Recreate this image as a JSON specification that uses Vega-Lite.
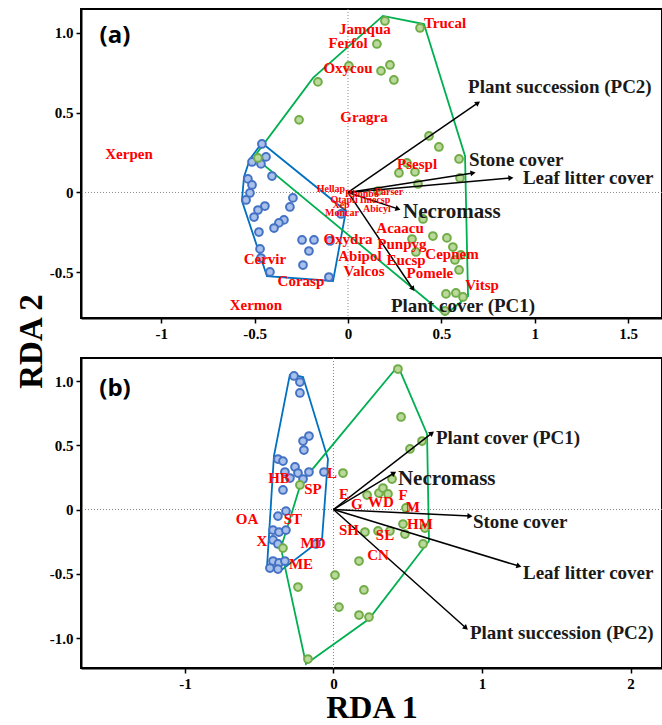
{
"$schema": "https://vega.github.io/schema/vega-lite/v6.json",
"padding": {"left": 14, "top": 7, "right": 0, "bottom": 0},
"background": "white",
"bounds": "flush",
"spacing": 40,
"config": {
  "view": {"stroke": "black", "strokeWidth": 2},
  "axis": {"grid": false, "domainColor": "black", "domainWidth": 2, "tickColor": "black", "tickWidth": 1.5, "tickSize": 5, "labelFont": "Liberation Serif", "labelFontWeight": "bold", "labelFontSize": 15, "labelColor": "black", "labelPadding": 3, "titleFont": "Liberation Serif", "titleFontWeight": "bold", "titleFontSize": 33, "titleColor": "black"}
},
"datasets": {
  "hullA": [
    {"g":"blue","i":0,"x":-0.461,"y":0.310},{"g":"blue","i":1,"x":-0.011,"y":-0.116},{"g":"blue","i":2,"x":-0.080,"y":-0.555},{"g":"blue","i":3,"x":-0.434,"y":-0.524},{"g":"blue","i":4,"x":-0.568,"y":-0.053},{"g":"blue","i":5,"x":-0.557,"y":0.097},{"g":"blue","i":6,"x":-0.525,"y":0.210},{"g":"blue","i":7,"x":-0.461,"y":0.310},
    {"g":"green","i":0,"x":-0.503,"y":0.223},{"g":"green","i":1,"x":-0.187,"y":0.718},{"g":"green","i":2,"x":0.187,"y":1.107},{"g":"green","i":3,"x":0.407,"y":1.056},{"g":"green","i":4,"x":0.627,"y":0.229},{"g":"green","i":5,"x":0.643,"y":-0.649},{"g":"green","i":6,"x":0.520,"y":-0.768},{"g":"green","i":7,"x":-0.503,"y":0.223}
  ],
  "hullB": [
    {"g":"blue","i":0,"x":-0.293,"y":1.054},{"g":"blue","i":1,"x":-0.205,"y":1.031},{"g":"blue","i":2,"x":-0.037,"y":0.393},{"g":"blue","i":3,"x":-0.077,"y":-0.230},{"g":"blue","i":4,"x":-0.360,"y":-0.479},{"g":"blue","i":5,"x":-0.448,"y":-0.455},{"g":"blue","i":6,"x":-0.401,"y":0.416},{"g":"blue","i":7,"x":-0.293,"y":1.054},
    {"g":"green","i":0,"x":0.434,"y":1.117},{"g":"green","i":1,"x":0.630,"y":0.588},{"g":"green","i":2,"x":0.643,"y":-0.245},{"g":"green","i":3,"x":0.239,"y":-0.852},{"g":"green","i":4,"x":-0.185,"y":-1.202},{"g":"green","i":5,"x":-0.354,"y":-0.300},{"g":"green","i":6,"x":-0.219,"y":0.206},{"g":"green","i":7,"x":0.434,"y":1.117}
  ],
  "ptsA": [
    {"g":"blue","x":-0.461,"y":0.304},{"g":"blue","x":-0.439,"y":0.223},{"g":"blue","x":-0.514,"y":0.191},{"g":"blue","x":-0.466,"y":0.179},{"g":"blue","x":-0.407,"y":0.103},{"g":"blue","x":-0.536,"y":0.085},{"g":"blue","x":-0.514,"y":0.047},{"g":"blue","x":-0.525,"y":-0.003},{"g":"blue","x":-0.546,"y":-0.047},{"g":"blue","x":-0.295,"y":-0.034},{"g":"blue","x":-0.311,"y":-0.091},{"g":"blue","x":-0.445,"y":-0.085},{"g":"blue","x":-0.482,"y":-0.110},{"g":"blue","x":-0.503,"y":-0.154},{"g":"blue","x":-0.343,"y":-0.172},{"g":"blue","x":-0.370,"y":-0.191},{"g":"blue","x":-0.396,"y":-0.223},{"g":"blue","x":-0.477,"y":-0.248},{"g":"blue","x":-0.037,"y":-0.135},{"g":"blue","x":-0.246,"y":-0.298},{"g":"blue","x":-0.182,"y":-0.298},{"g":"blue","x":-0.096,"y":-0.304},{"g":"blue","x":-0.209,"y":-0.367},{"g":"blue","x":-0.471,"y":-0.354},{"g":"blue","x":-0.466,"y":-0.411},{"g":"blue","x":-0.241,"y":-0.455},{"g":"blue","x":-0.418,"y":-0.498},{"g":"blue","x":-0.102,"y":-0.530},
    {"g":"green","x":-0.482,"y":0.216},{"g":"green","x":0.198,"y":1.075},{"g":"green","x":0.386,"y":1.031},{"g":"green","x":0.155,"y":0.931},{"g":"green","x":0.005,"y":0.793},{"g":"green","x":0.177,"y":0.762},{"g":"green","x":0.225,"y":0.799},{"g":"green","x":0.246,"y":0.705},{"g":"green","x":-0.161,"y":0.693},{"g":"green","x":-0.262,"y":0.455},{"g":"green","x":0.434,"y":0.354},{"g":"green","x":0.487,"y":0.285},{"g":"green","x":0.595,"y":0.210},{"g":"green","x":0.316,"y":0.185},{"g":"green","x":0.273,"y":0.122},{"g":"green","x":0.359,"y":0.129},{"g":"green","x":0.600,"y":0.091},{"g":"green","x":0.375,"y":0.053},{"g":"green","x":0.161,"y":0.009},{"g":"green","x":0.402,"y":-0.166},{"g":"green","x":0.455,"y":-0.273},{"g":"green","x":0.530,"y":-0.285},{"g":"green","x":0.343,"y":-0.292},{"g":"green","x":0.562,"y":-0.342},{"g":"green","x":0.605,"y":-0.392},{"g":"green","x":0.573,"y":-0.423},{"g":"green","x":0.595,"y":-0.486},{"g":"green","x":0.364,"y":-0.373},{"g":"green","x":0.525,"y":-0.636},{"g":"green","x":0.578,"y":-0.630},{"g":"green","x":0.616,"y":-0.655},{"g":"green","x":0.520,"y":-0.743}
  ],
  "ptsB": [
    {"g":"blue","x":-0.266,"y":1.039},{"g":"blue","x":-0.226,"y":0.992},{"g":"blue","x":-0.226,"y":0.907},{"g":"blue","x":-0.165,"y":0.572},{"g":"blue","x":-0.205,"y":0.533},{"g":"blue","x":-0.199,"y":0.463},{"g":"blue","x":-0.374,"y":0.393},{"g":"blue","x":-0.340,"y":0.377},{"g":"blue","x":-0.259,"y":0.331},{"g":"blue","x":-0.327,"y":0.292},{"g":"blue","x":-0.239,"y":0.284},{"g":"blue","x":-0.165,"y":0.292},{"g":"blue","x":-0.064,"y":0.292},{"g":"blue","x":-0.293,"y":0.245},{"g":"blue","x":-0.205,"y":0.237},{"g":"blue","x":-0.340,"y":0.152},{"g":"blue","x":-0.320,"y":-0.012},{"g":"blue","x":-0.374,"y":-0.051},{"g":"blue","x":-0.407,"y":-0.160},{"g":"blue","x":-0.367,"y":-0.175},{"g":"blue","x":-0.320,"y":-0.160},{"g":"blue","x":-0.407,"y":-0.237},{"g":"blue","x":-0.374,"y":-0.268},{"g":"blue","x":-0.118,"y":-0.268},{"g":"blue","x":-0.407,"y":-0.401},{"g":"blue","x":-0.367,"y":-0.416},{"g":"blue","x":-0.327,"y":-0.401},{"g":"blue","x":-0.428,"y":-0.455},{"g":"blue","x":-0.374,"y":-0.463},
    {"g":"green","x":0.434,"y":1.093},{"g":"green","x":0.455,"y":0.720},{"g":"green","x":0.596,"y":0.533},{"g":"green","x":0.515,"y":0.471},{"g":"green","x":0.064,"y":0.284},{"g":"green","x":0.394,"y":0.237},{"g":"green","x":-0.226,"y":0.191},{"g":"green","x":0.226,"y":0.113},{"g":"green","x":0.306,"y":0.128},{"g":"green","x":0.333,"y":0.167},{"g":"green","x":0.367,"y":0.121},{"g":"green","x":0.488,"y":0.012},{"g":"green","x":0.468,"y":-0.113},{"g":"green","x":0.616,"y":-0.144},{"g":"green","x":0.212,"y":-0.175},{"g":"green","x":0.300,"y":-0.167},{"g":"green","x":0.380,"y":-0.167},{"g":"green","x":0.481,"y":-0.191},{"g":"green","x":0.603,"y":-0.268},{"g":"green","x":-0.340,"y":-0.300},{"g":"green","x":0.172,"y":-0.401},{"g":"green","x":0.010,"y":-0.510},{"g":"green","x":-0.239,"y":-0.603},{"g":"green","x":0.205,"y":-0.626},{"g":"green","x":0.037,"y":-0.759},{"g":"green","x":0.172,"y":-0.821},{"g":"green","x":0.239,"y":-0.837},{"g":"green","x":-0.172,"y":-1.163}
  ],
  "arrowsA": [
    {"name":"Plant succession (PC2)","x0":0,"y0":0,"x":0.696,"y":0.561},
    {"name":"Stone cover","x0":0,"y0":0,"x":0.670,"y":0.122},
    {"name":"Leaf litter cover","x0":0,"y0":0,"x":0.873,"y":0.091},
    {"name":"Necromass","x0":0,"y0":0,"x":0.268,"y":-0.103},
    {"name":"Plant cover (PC1)","x0":0,"y0":0,"x":0.348,"y":-0.605}
  ],
  "arrowLabelsA": [
    {"name":"Plant succession (PC2)","x":0.643,"y":0.661},
    {"name":"Stone cover","x":0.648,"y":0.204},
    {"name":"Leaf litter cover","x":0.937,"y":0.091},
    {"name":"Necromass","x":0.295,"y":-0.122},
    {"name":"Plant cover (PC1)","x":0.230,"y":-0.712}
  ],
  "arrowsB": [
    {"name":"Plant cover (PC1)","x0":0,"y0":0,"x":0.663,"y":0.595},
    {"name":"Necromass","x0":0,"y0":0,"x":0.407,"y":0.284},
    {"name":"Stone cover","x0":0,"y0":0,"x":0.919,"y":-0.051},
    {"name":"Leaf litter cover","x0":0,"y0":0,"x":1.249,"y":-0.440},
    {"name":"Plant succession (PC2)","x0":0,"y0":0,"x":0.892,"y":-0.922}
  ],
  "arrowLabelsB": [
    {"name":"Plant cover (PC1)","x":0.690,"y":0.556},
    {"name":"Necromass","x":0.434,"y":0.237},
    {"name":"Stone cover","x":0.939,"y":-0.097},
    {"name":"Leaf litter cover","x":1.276,"y":-0.494},
    {"name":"Plant succession (PC2)","x":0.919,"y":-0.961}
  ],
  "speciesA": [
    {"s":"Jamqua","x":0.091,"y":1.025},{"s":"Trucal","x":0.520,"y":1.063},{"s":"Ferfol","x":0.000,"y":0.937},{"s":"Oxycou","x":0.000,"y":0.781},{"s":"Gragra","x":0.086,"y":0.473},{"s":"Xerpen","x":-1.173,"y":0.241},{"s":"Psespl","x":0.370,"y":0.179},{"s":"Acaacu","x":0.279,"y":-0.223},{"s":"Oxydra","x":0.000,"y":-0.292},{"s":"Punpyg","x":0.289,"y":-0.323},{"s":"Cepnem","x":0.557,"y":-0.386},{"s":"Abipol","x":0.064,"y":-0.398},{"s":"Eucsp","x":0.311,"y":-0.423},{"s":"Cervir","x":-0.445,"y":-0.417},{"s":"Valcos","x":0.086,"y":-0.492},{"s":"Pomele","x":0.439,"y":-0.505},{"s":"Corasp","x":-0.252,"y":-0.555},{"s":"Vitsp","x":0.718,"y":-0.580},{"s":"Xermon","x":-0.493,"y":-0.705}
  ],
  "smallA": [
    {"s":"Hellap","x":-0.091,"y":0.022},{"s":"Rhonbo","x":0.075,"y":-0.010},{"s":"Parser","x":0.220,"y":0.003},{"s":"Otapli","x":-0.021,"y":-0.047},{"s":"Imecsp","x":0.145,"y":-0.047},{"s":"Xep","x":-0.037,"y":-0.078},{"s":"Abicyl","x":0.155,"y":-0.103},{"s":"Moncar","x":-0.032,"y":-0.129}
  ],
  "speciesB": [
    {"s":"HB","x":-0.367,"y":0.245},{"s":"L","x":-0.010,"y":0.284},{"s":"SP","x":-0.138,"y":0.160},{"s":"E","x":0.071,"y":0.121},{"s":"G","x":0.158,"y":0.043},{"s":"WD","x":0.320,"y":0.058},{"s":"F","x":0.468,"y":0.113},{"s":"M","x":0.535,"y":0.019},{"s":"HM","x":0.582,"y":-0.113},{"s":"OA","x":-0.582,"y":-0.074},{"s":"ST","x":-0.273,"y":-0.074},{"s":"SH","x":0.104,"y":-0.160},{"s":"SL","x":0.347,"y":-0.198},{"s":"X","x":-0.481,"y":-0.245},{"s":"MD","x":-0.138,"y":-0.261},{"s":"CN","x":0.300,"y":-0.354},{"s":"ME","x":-0.219,"y":-0.424}
  ],
  "panelA": [{"s":"(a)","x":-1.248,"y":0.981}],
  "panelB": [{"s":"(b)","x":-1.471,"y":0.938}],
  "zero": [{"z":0}]
},
"vconcat": [
{
  "width": 581, "height": 309,
  "layer": [
    {"data": {"name":"zero"}, "mark": {"type":"rule","color":"#888888","strokeWidth":1,"strokeDash":[1,2]},
     "encoding": {"y": {"field":"z","type":"quantitative","scale":{"domain":[-0.787,1.15],"nice":false,"zero":false}}}},
    {"data": {"name":"zero"}, "mark": {"type":"rule","color":"#888888","strokeWidth":1,"strokeDash":[1,2]},
     "encoding": {"x": {"field":"z","type":"quantitative","scale":{"domain":[-1.43,1.682],"nice":false,"zero":false}}}},
    {"data": {"name":"hullA"}, "mark": {"type":"line","strokeWidth":1.8,"clip":true},
     "encoding": {
       "x": {"field":"x","type":"quantitative","scale":{"domain":[-1.43,1.682],"nice":false,"zero":false},
             "axis":{"title":null,"values":[-1,-0.5,0,0.5,1,1.5],"labelExpr":"datum.value == 0 ? '0' : toString(datum.value)"}},
       "y": {"field":"y","type":"quantitative","scale":{"domain":[-0.787,1.15],"nice":false,"zero":false},
             "axis":{"title":"RDA 2","values":[-0.5,0,0.5,1],"labelExpr":"datum.value == 0 ? '0' : (datum.value < 0 ? '-' : '') + format(abs(datum.value), '.1f')","titleX":-50,"titleY":332,"titleAngle":-90,"titleAlign":"center","titleBaseline":"middle"}},
       "color": {"field":"g","type":"nominal","scale":{"domain":["blue","green"],"range":["#0070c0","#00b050"]},"legend":null},
       "order": {"field":"i","type":"quantitative"}
     }},
    {"data": {"name":"ptsA"}, "mark": {"type":"point","shape":"circle","filled":true,"size":60,"strokeWidth":2,"opacity":1,"clip":true},
     "encoding": {
       "x": {"field":"x","type":"quantitative"},
       "y": {"field":"y","type":"quantitative"},
       "fill": {"field":"g","type":"nominal","scale":{"domain":["blue","green"],"range":["#a9c1ea","#bcd99c"]},"legend":null},
       "stroke": {"field":"g","type":"nominal","scale":{"domain":["blue","green"],"range":["#4472c4","#70ad47"]},"legend":null}
     }},
    {"data": {"name":"arrowsA"}, "mark": {"type":"rule","color":"black","strokeWidth":1.5},
     "encoding": {"x": {"field":"x0","type":"quantitative"},"y": {"field":"y0","type":"quantitative"},"x2": {"field":"x"},"y2": {"field":"y"}}},
    {"data": {"name":"arrowsA"}, "transform": [{"calculate":"atan2(-datum.y*159.5, datum.x*186.7)*180/PI","as":"ang"}],
     "mark": {"type":"point","shape":"triangle-right","filled":true,"color":"black","size":35,"opacity":1},
     "encoding": {"x": {"field":"x","type":"quantitative"},"y": {"field":"y","type":"quantitative"},"angle": {"field":"ang","type":"quantitative","scale":null}}},
    {"data": {"name":"arrowLabelsA"}, "transform": [{"filter":"datum.name != 'Necromass'"}], "mark": {"type":"text","align":"left","baseline":"middle","font":"Liberation Serif","fontWeight":"bold","fontSize":19,"color":"#1a1a1a","clip":true},
     "encoding": {"x": {"field":"x","type":"quantitative"},"y": {"field":"y","type":"quantitative"},"text": {"field":"name","type":"nominal"}}},
    {"data": {"name":"arrowLabelsA"}, "transform": [{"filter":"datum.name == 'Necromass'"}], "mark": {"type":"text","align":"left","baseline":"middle","font":"Liberation Serif","fontWeight":"bold","fontSize":21,"color":"#1a1a1a","clip":true},
     "encoding": {"x": {"field":"x","type":"quantitative"},"y": {"field":"y","type":"quantitative"},"text": {"field":"name","type":"nominal"}}},
    {"data": {"name":"speciesA"}, "mark": {"type":"text","align":"center","baseline":"middle","font":"Liberation Serif","fontWeight":"bold","fontSize":15,"color":"#ff0000","clip":true},
     "encoding": {"x": {"field":"x","type":"quantitative"},"y": {"field":"y","type":"quantitative"},"text": {"field":"s","type":"nominal"}}},
    {"data": {"name":"smallA"}, "mark": {"type":"text","align":"center","baseline":"middle","font":"Liberation Serif","fontWeight":"bold","fontSize":10,"color":"#ff0000","clip":true},
     "encoding": {"x": {"field":"x","type":"quantitative"},"y": {"field":"y","type":"quantitative"},"text": {"field":"s","type":"nominal"}}},
    {"data": {"name":"panelA"}, "mark": {"type":"text","align":"center","baseline":"middle","font":"Open Sans","fontWeight":"bold","fontSize":24,"color":"black"},
     "encoding": {"x": {"field":"x","type":"quantitative"},"y": {"field":"y","type":"quantitative"},"text": {"field":"s","type":"nominal"}}}
  ]
},
{
  "width": 581, "height": 310,
  "layer": [
    {"data": {"name":"zero"}, "mark": {"type":"rule","color":"#888888","strokeWidth":1,"strokeDash":[1,2]},
     "encoding": {"y": {"field":"z","type":"quantitative","scale":{"domain":[-1.233,1.179],"nice":false,"zero":false}}}},
    {"data": {"name":"zero"}, "mark": {"type":"rule","color":"#888888","strokeWidth":1,"strokeDash":[1,2]},
     "encoding": {"x": {"field":"z","type":"quantitative","scale":{"domain":[-1.7,2.212],"nice":false,"zero":false}}}},
    {"data": {"name":"hullB"}, "mark": {"type":"line","strokeWidth":1.8,"clip":true},
     "encoding": {
       "x": {"field":"x","type":"quantitative","scale":{"domain":[-1.7,2.212],"nice":false,"zero":false},
             "axis":{"title":"RDA 1","values":[-1,0,1,2],"labelExpr":"datum.value == 0 ? '0' : toString(datum.value)","titleY":49,"titleBaseline":"alphabetic","titleFontSize":32}},
       "y": {"field":"y","type":"quantitative","scale":{"domain":[-1.233,1.179],"nice":false,"zero":false},
             "axis":{"title":null,"values":[-1,-0.5,0,0.5,1],"labelExpr":"datum.value == 0 ? '0' : (datum.value < 0 ? '-' : '') + format(abs(datum.value), '.1f')"}},
       "color": {"field":"g","type":"nominal","scale":{"domain":["blue","green"],"range":["#0070c0","#00b050"]},"legend":null},
       "order": {"field":"i","type":"quantitative"}
     }},
    {"data": {"name":"ptsB"}, "mark": {"type":"point","shape":"circle","filled":true,"size":60,"strokeWidth":2,"opacity":1,"clip":true},
     "encoding": {
       "x": {"field":"x","type":"quantitative"},
       "y": {"field":"y","type":"quantitative"},
       "fill": {"field":"g","type":"nominal","scale":{"domain":["blue","green"],"range":["#a9c1ea","#bcd99c"]},"legend":null},
       "stroke": {"field":"g","type":"nominal","scale":{"domain":["blue","green"],"range":["#4472c4","#70ad47"]},"legend":null}
     }},
    {"data": {"name":"arrowsB"}, "mark": {"type":"rule","color":"black","strokeWidth":1.5},
     "encoding": {"x": {"field":"x0","type":"quantitative"},"y": {"field":"y0","type":"quantitative"},"x2": {"field":"x"},"y2": {"field":"y"}}},
    {"data": {"name":"arrowsB"}, "transform": [{"calculate":"atan2(-datum.y*128.5, datum.x*148.5)*180/PI","as":"ang"}],
     "mark": {"type":"point","shape":"triangle-right","filled":true,"color":"black","size":35,"opacity":1},
     "encoding": {"x": {"field":"x","type":"quantitative"},"y": {"field":"y","type":"quantitative"},"angle": {"field":"ang","type":"quantitative","scale":null}}},
    {"data": {"name":"arrowLabelsB"}, "transform": [{"filter":"datum.name != 'Necromass'"}], "mark": {"type":"text","align":"left","baseline":"middle","font":"Liberation Serif","fontWeight":"bold","fontSize":19,"color":"#1a1a1a","clip":true},
     "encoding": {"x": {"field":"x","type":"quantitative"},"y": {"field":"y","type":"quantitative"},"text": {"field":"name","type":"nominal"}}},
    {"data": {"name":"arrowLabelsB"}, "transform": [{"filter":"datum.name == 'Necromass'"}], "mark": {"type":"text","align":"left","baseline":"middle","font":"Liberation Serif","fontWeight":"bold","fontSize":21,"color":"#1a1a1a","clip":true},
     "encoding": {"x": {"field":"x","type":"quantitative"},"y": {"field":"y","type":"quantitative"},"text": {"field":"name","type":"nominal"}}},
    {"data": {"name":"speciesB"}, "mark": {"type":"text","align":"center","baseline":"middle","font":"Liberation Serif","fontWeight":"bold","fontSize":15,"color":"#ff0000","clip":true},
     "encoding": {"x": {"field":"x","type":"quantitative"},"y": {"field":"y","type":"quantitative"},"text": {"field":"s","type":"nominal"}}},
    {"data": {"name":"panelB"}, "mark": {"type":"text","align":"center","baseline":"middle","font":"Open Sans","fontWeight":"bold","fontSize":24,"color":"black"},
     "encoding": {"x": {"field":"x","type":"quantitative"},"y": {"field":"y","type":"quantitative"},"text": {"field":"s","type":"nominal"}}}
  ]
}
]
}
